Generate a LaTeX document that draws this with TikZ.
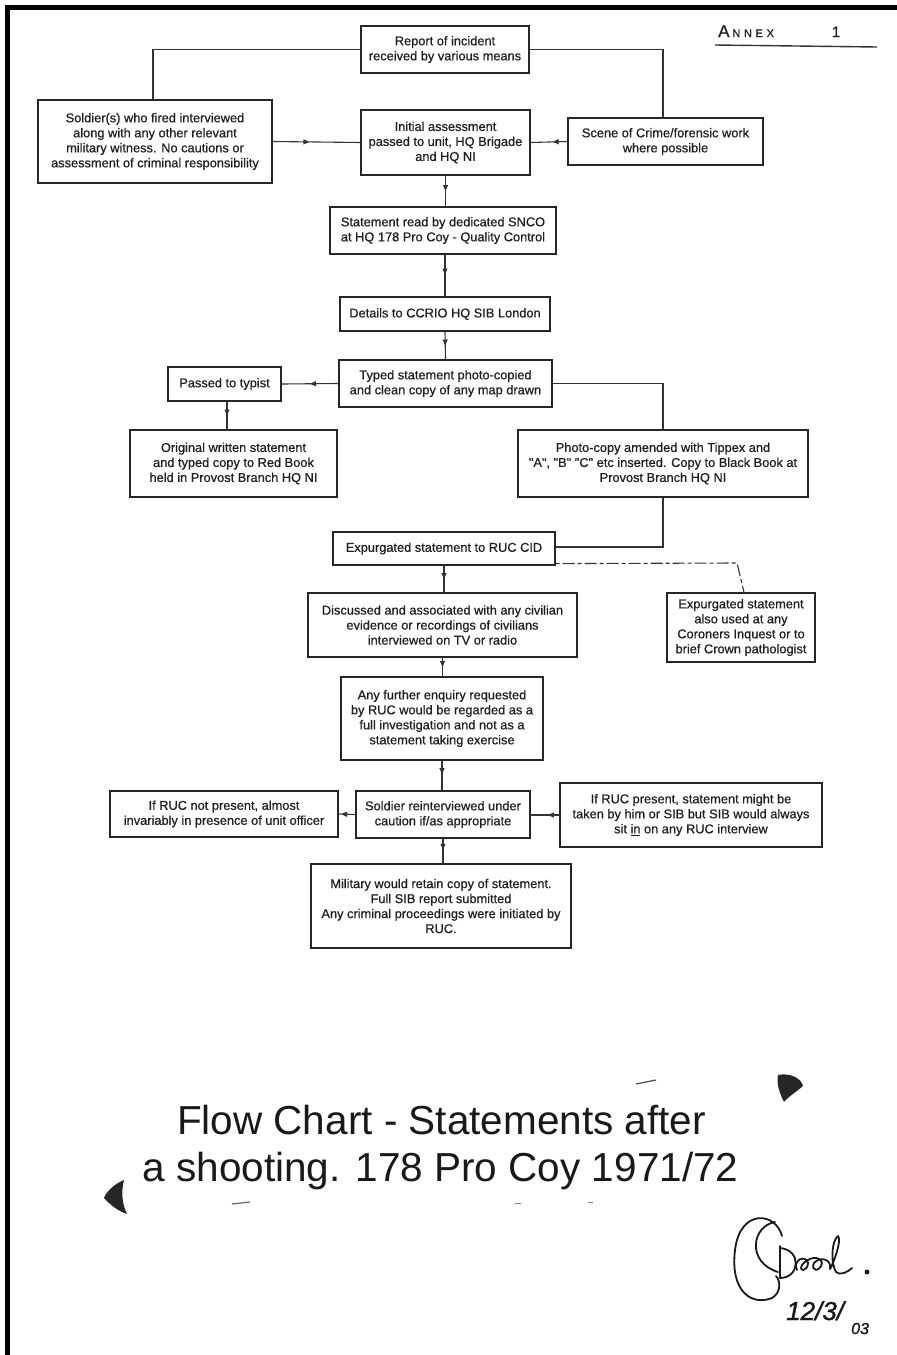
\documentclass[tikz,border=0pt]{standalone}
\usepackage{fontspec}
\setmainfont{Liberation Sans}
\newfontfamily\boxfont[FakeBold=0.6]{Liberation Sans}
\newfontfamily\titlefont{Liberation Sans}
\newfontfamily\handfont[FakeBold=1.2]{Liberation Sans}
\usetikzlibrary{arrows.meta,decorations.markings,calc}
\begin{document}
\begin{tikzpicture}[x=1pt,y=-1pt,
  box/.style={draw=black!85, line width=1.2pt, align=center, inner sep=2pt,
    font=\boxfont\fontsize{12.8}{15}\selectfont, text=black!88},
  bx/.style 2 args={box, minimum width=#1, minimum height=#2},
  link/.style={draw=black!80, line width=1.1pt},
  midarrow/.style={link, postaction={decorate},
    decoration={markings, mark=at position #1 with {\arrow{Triangle[length=6pt,width=5pt]}}}},
  sig/.style={line width=1.8pt, line cap=round, line join=round, black!90},
]
\useasboundingbox (0,0) rectangle (897,1355);
\fill[white] (0,0) rectangle (897,1355);
% page frame
\draw[line width=5pt] (7.5,1355) -- (7.5,7.5) -- (897,7.5);

% annex mark
\node[font=\handfont\fontsize{17}{17}\selectfont, black!85, anchor=base west, inner sep=0pt] (annex) at (718,37) {A\,{\fontsize{11}{11}\selectfont N\,\,N\,\,E\,\,X}};
\node[font=\handfont\fontsize{15}{15}\selectfont, black!85, anchor=base, inner sep=0pt] (annexno) at (836,37) {1};
\draw[line width=1.4pt, black!80] (715,45) -- (877,47);

% boxes
\node[bx={168pt}{47pt}] (report) at (445,49.5) {Report of incident\\received by various means};
\node[bx={234pt}{83pt}] (soldier) at (155,141.5) {Soldier(s) who fired interviewed\\along with any other relevant\\military witness. No cautions or\\assessment of criminal responsibility};
\node[bx={169pt}{65pt}] (initial) at (445.5,142.5) {Initial assessment\\passed to unit, HQ Brigade\\and HQ NI};
\node[bx={195pt}{47pt}] (scene) at (665.5,141.5) {Scene of Crime/forensic work\\where possible};
\node[bx={226pt}{47pt}] (stmt) at (443,230.5) {Statement read by dedicated SNCO\\at HQ 178 Pro Coy - Quality Control};
\node[bx={210pt}{34pt}] (details) at (445,314) {Details to CCRIO HQ SIB London};
\node[bx={213pt}{47pt}] (typed) at (445.5,383.5) {Typed statement photo-copied\\and clean copy of any map drawn};
\node[bx={113pt}{34pt}] (typist) at (224.5,384) {Passed to typist};
\node[bx={207pt}{67pt}] (orig) at (233.5,463.5) {Original written statement\\and typed copy to Red Book\\held in Provost Branch HQ NI};
\node[bx={290pt}{67pt}] (photo) at (663,463.5) {Photo-copy amended with Tippex and\\"A", "B" "C" etc inserted. Copy to Black Book at\\Provost Branch HQ NI};
\node[bx={222pt}{33pt}] (exp) at (444,548.5) {Expurgated statement to RUC CID};
\node[bx={269pt}{64pt}] (disc) at (442.5,625) {Discussed and associated with any civilian\\evidence or recordings of civilians\\interviewed on TV or radio};
\node[bx={148pt}{69pt}] (expalso) at (741,627.5) {Expurgated statement\\also used at any\\Coroners Inquest or to\\brief Crown pathologist};
\node[bx={202pt}{83pt}] (further) at (442,718.5) {Any further enquiry requested\\by RUC would be regarded as a\\full investigation and not as a\\statement taking exercise};
\node[bx={174pt}{47pt}] (reint) at (443,814.5) {Soldier reinterviewed under\\caution if/as appropriate};
\node[bx={228pt}{46pt}] (notpres) at (224,814) {If RUC not present, almost\\invariably in presence of unit officer};
\node[bx={262pt}{64pt}] (pres) at (691,815) {If RUC present, statement might be\\taken by him or SIB but SIB would always\\sit \underline{in} on any RUC interview};
\node[bx={260pt}{84pt}] (military) at (441,906) {Military would retain copy of statement.\\Full SIB report submitted\\Any criminal proceedings were initiated by\\RUC.};

% connectors
\draw[link] (report.west) -| ([xshift=-2pt]soldier.north);
\draw[link] (report.east) -| ([xshift=-2.5pt]scene.north);
\draw[midarrow=0.42] (soldier.east) -- (initial.west);
\draw[midarrow=0.4] (scene.west) -- (initial.east);
\draw[midarrow=0.5] (initial.south) -- (initial.south |- stmt.north);
\draw[midarrow=0.5] (stmt.south) -- (stmt.south -| details.north) -- (details.north);
\draw[midarrow=0.5] (details.south) -- (typed.north);
\draw[midarrow=0.5] (typed.west) -- (typist.east);
\draw[midarrow=0.5] ([xshift=2.5pt]typist.south) -- ([xshift=2.5pt]typist.south |- orig.north);
\draw[link] (typed.east) -| (photo.north);
\draw[link] (photo.south) |- ([yshift=1.5pt]exp.east);
\draw[midarrow=0.5] (exp.south) -- (exp.south |- disc.north);
\coordinate (dj) at (737,563);
\draw[link, dash pattern=on 4pt off 3pt on 12pt off 3pt] ([yshift=2pt]exp.south east) -- (dj) -- ([xshift=3pt]expalso.north);
\draw[midarrow=0.5] (disc.south) -- (disc.south |- further.north);
\draw[midarrow=0.45] (further.south) -- (further.south |- reint.north);
\draw[midarrow=0.85] (reint.west) -- (notpres.east);
\draw[midarrow=0.4] (pres.west) -- (pres.west -| reint.east);
\draw[midarrow=0.45] (reint.south) -- (reint.south |- military.north);

% title
\node[anchor=base, font=\titlefont\fontsize{40.5}{40.5}\selectfont, black!90] (title1) at (441.5,1134) {Flow Chart - Statements after};
\node[anchor=base, font=\titlefont\fontsize{40.5}{40.5}\selectfont, black!90] (title2) at (440.5,1181) {a shooting. 178 Pro Coy 1971/72};

% scan marks
\fill[black!85] (778,1075) .. controls (792,1072) and (802,1080) .. (803,1086) .. controls (796,1092) and (788,1097) .. (784,1102) .. controls (780,1094) and (776,1084) .. (778,1075) -- cycle;
\fill[black!85] (124,1180) .. controls (114,1184) and (106,1192) .. (104,1198) .. controls (110,1205) and (120,1212) .. (127,1214) .. controls (122,1204) and (121,1192) .. (124,1180) -- cycle;
\draw[line width=1.2pt, black!70] (636,1084) -- (656,1080);
\draw[line width=1.2pt, black!60] (232,1204) -- (250,1202);
\draw[line width=1pt, black!50] (515,1203) -- (521,1203);
\draw[line width=1pt, black!50] (588,1202) -- (593,1202);

% signature
\draw[sig] (782,1236) .. controls (776,1212) and (740,1208) .. (735,1250) .. controls (730,1292) and (752,1306) .. (772,1298) .. controls (782,1292) and (780,1280) .. (776,1276);
\draw[sig] (775,1222) .. controls (752,1226) and (746,1262) .. (778,1272);
\draw[sig] (780,1246) -- (780,1278) .. controls (800,1278) and (802,1250) .. (780,1248);
\draw[sig] (797,1270) .. controls (792,1260) and (806,1254) .. (808,1263) .. controls (808,1271) and (798,1273) .. (802,1265) .. controls (808,1257) and (820,1255) .. (822,1263) .. controls (820,1273) and (810,1271) .. (814,1263) .. controls (820,1256) and (832,1259) .. (830,1269) .. controls (834,1262) and (842,1240) .. (838,1236) .. controls (832,1240) and (830,1262) .. (836,1272) .. controls (840,1276) and (848,1272) .. (852,1268);
\fill[black!90] (867,1272) circle (2.4pt);
\node[anchor=base west, font=\handfont\fontsize{26}{26}\selectfont\itshape, black!90, inner sep=0pt] (date1) at (786,1320) {12/3/};
\node[anchor=base west, font=\handfont\fontsize{16}{16}\selectfont\itshape, black!90, inner sep=0pt] (date2) at (851,1334) {03};
\end{tikzpicture}
\end{document}
